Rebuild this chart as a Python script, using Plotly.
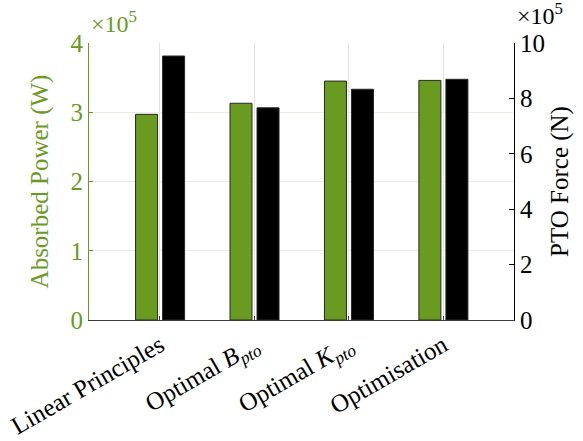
import plotly.graph_objects as go

# Control strategies compared
categories = [
    "Linear Principles",
    "Optimal <i>B</i><sub><i>pto</i></sub>",
    "Optimal <i>K</i><sub><i>pto</i></sub>",
    "Optimisation",
]
# Mean absorbed power (W) and peak PTO force (N)
absorbed_power = [2.97e5, 3.13e5, 3.45e5, 3.46e5]
pto_force = [9.53e5, 7.66e5, 8.33e5, 8.69e5]

left_ticks = [0, 1e5, 2e5, 3e5, 4e5]
left_ticktext = ["0", "1", "2", "3", "4"]
right_ticks = [0, 2e5, 4e5, 6e5, 8e5, 10e5]
right_ticktext = ["0", "2", "4", "6", "8", "10"]

GREEN = "rgb(104,155,32)"
FONT = "Liberation Serif"
FS = 25

fig = go.Figure()
fig.add_trace(go.Bar(
    x=categories, y=absorbed_power, yaxis="y",
    offset=-0.257, width=0.233,
    marker=dict(color=GREEN, line=dict(color="rgb(40,40,40)", width=1)),
    name="Absorbed Power",
))
fig.add_trace(go.Bar(
    x=categories, y=pto_force, yaxis="y2",
    offset=0.029, width=0.233,
    marker=dict(color="black", line=dict(color="rgb(40,40,40)", width=1)),
    name="PTO Force",
))

fig.update_layout(
    width=583, height=441,
    margin=dict(l=89, r=69, t=43, b=121),
    paper_bgcolor="white", plot_bgcolor="white",
    showlegend=False,
    barmode="overlay",
    font=dict(family=FONT, size=FS, color="black"),
    xaxis=dict(
        type="category", range=[-0.75, 3.75], automargin=False,
        tickangle=-30, tickfont=dict(size=FS, color="black"),
        showgrid=True, gridcolor="rgb(226,226,226)", gridwidth=1,
        showline=True, linecolor="rgb(60,60,60)", linewidth=1,
        ticks="inside", ticklen=4, tickcolor="rgb(60,60,60)",
    ),
    yaxis=dict(
        range=[0, 4e5], tickvals=left_ticks, ticktext=left_ticktext,
        automargin=False,
        tickfont=dict(size=FS, color=GREEN),
        title=dict(text="Absorbed Power (W)", font=dict(size=FS, color=GREEN), standoff=14),
        showgrid=True, gridcolor="rgb(234,237,226)", gridwidth=1,
        zeroline=False,
        showline=True, linecolor=GREEN, linewidth=1,
        ticks="inside", ticklen=4, tickcolor=GREEN,
    ),
    yaxis2=dict(
        overlaying="y", side="right", automargin=False,
        range=[0, 10e5], tickvals=right_ticks, ticktext=right_ticktext,
        tickfont=dict(size=FS, color="black"),
        title=dict(text="PTO Force (N)", font=dict(size=FS, color="black"), standoff=6),
        showgrid=False, zeroline=False,
        showline=True, linecolor="black", linewidth=1,
        ticks="inside", ticklen=5, tickcolor="black",
    ),
    annotations=[
        dict(text="×10<sup>5</sup>", xref="paper", yref="paper", x=0.0, y=1.0,
             xanchor="left", yanchor="bottom", yshift=4, showarrow=False,
             font=dict(size=24, color=GREEN, family=FONT)),
        dict(text="×10<sup>5</sup>", xref="paper", yref="paper", x=1.0, y=1.0,
             xanchor="left", yanchor="bottom", xshift=1, yshift=12, showarrow=False,
             font=dict(size=24, color="black", family=FONT)),
    ],
)

fig.write_html("out.html")
